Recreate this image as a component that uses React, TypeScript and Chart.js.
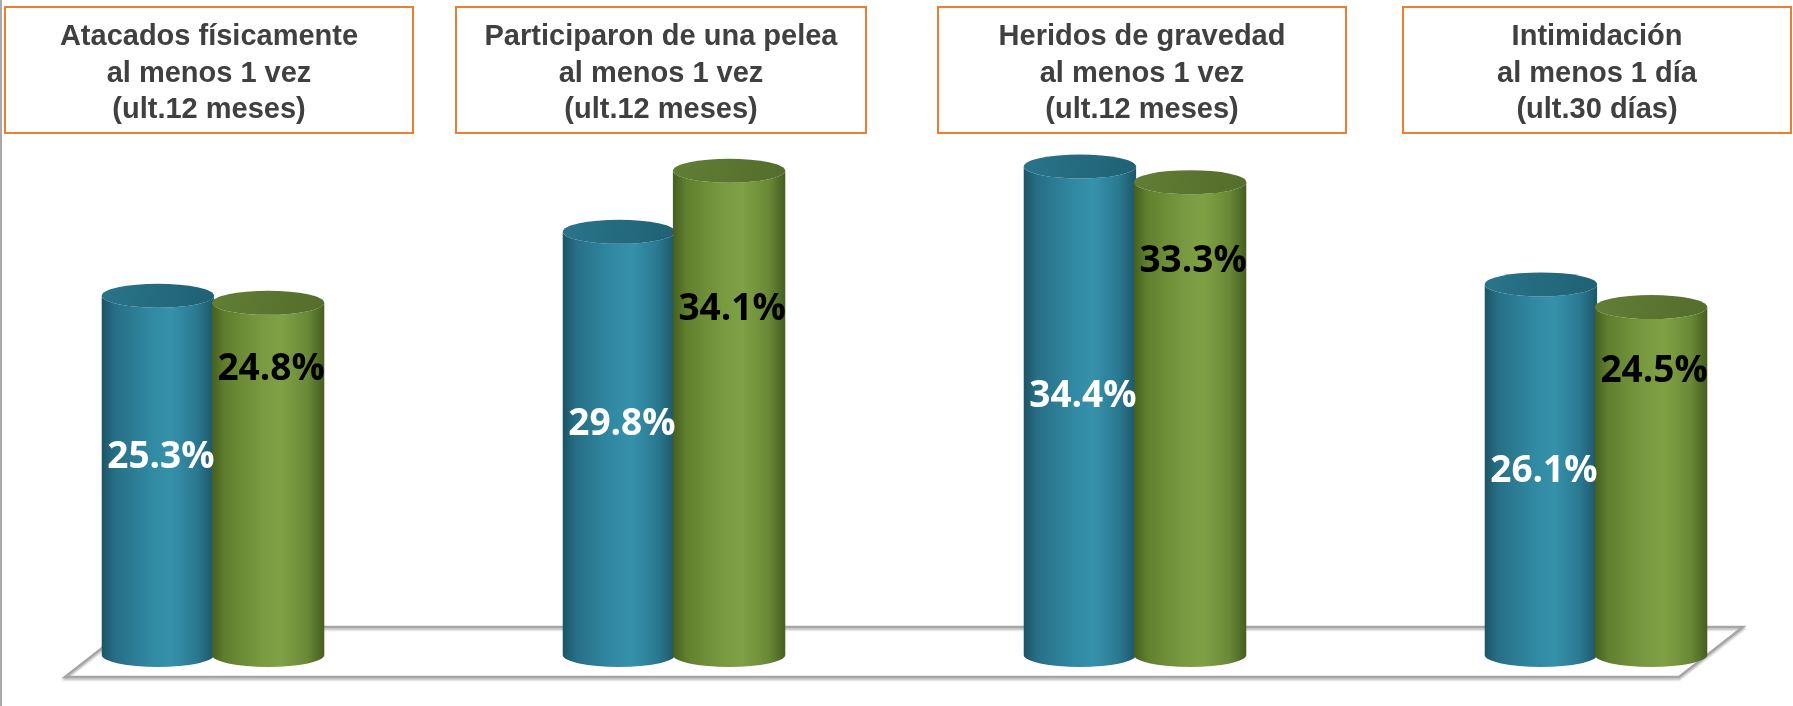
import React, { useEffect, useRef } from 'react';
import { Chart, registerables } from 'chart.js';

Chart.register(...registerables);

// ---- data ----
const categoryTitles: string[][] = [
  ['Atacados físicamente', 'al menos 1 vez', '(ult.12 meses)'],
  ['Participaron de una pelea', 'al menos 1 vez', '(ult.12 meses)'],
  ['Heridos de gravedad', 'al menos 1 vez', '(ult.12 meses)'],
  ['Intimidación', 'al menos 1 día', '(ult.30 días)'],
];
const seriesBlue: number[] = [25.3, 29.8, 34.4, 26.1];
const seriesGreen: number[] = [24.8, 34.1, 33.3, 24.5];
const seriesNames: string[] = ['Serie 1', 'Serie 2'];

// ---- styles ----
const BLUE_STOPS: [number, string][] = [
  [0, '#1c5465'],
  [0.12, '#276f86'],
  [0.45, '#318aa3'],
  [0.62, '#3691ab'],
  [0.85, '#2a7890'],
  [1, '#1d5668'],
];
const GREEN_STOPS: [number, string][] = [
  [0, '#455e1f'],
  [0.12, '#61802f'],
  [0.45, '#799a40'],
  [0.62, '#80a045'],
  [0.85, '#6a8937'],
  [1, '#455e1f'],
];
const BLUE_TOP: [string, string] = ['#2a7489', '#1f6175'];
const GREEN_TOP: [string, string] = ['#627e35', '#546d2b'];

function drawCylinder(
  ctx: CanvasRenderingContext2D,
  x: number,
  top: number,
  base: number,
  w: number,
  stops: [number, string][],
  topCols: [string, string]
) {
  const rx = w / 2;
  const ry = 12;
  const L = x - rx;
  const R = x + rx;
  const g = ctx.createLinearGradient(L, 0, R, 0);
  stops.forEach(([o, c]) => g.addColorStop(o, c));
  ctx.save();
  ctx.beginPath();
  ctx.moveTo(L, top);
  ctx.lineTo(L, base);
  ctx.ellipse(x, base, rx, ry, 0, Math.PI, 0, true);
  ctx.lineTo(R, top);
  ctx.ellipse(x, top, rx, ry, 0, 0, Math.PI, false);
  ctx.closePath();
  ctx.fillStyle = g;
  ctx.fill();
  // top cap
  const tg = ctx.createLinearGradient(L, top - ry, R, top + ry);
  tg.addColorStop(0, topCols[0]);
  tg.addColorStop(1, topCols[1]);
  ctx.beginPath();
  ctx.ellipse(x, top, rx, ry, 0, 0, Math.PI * 2);
  ctx.fillStyle = tg;
  ctx.fill();
  ctx.restore();
}

const cylinderPlugin = {
  id: 'cylinders',
  beforeDatasetsDraw(chart: any) {
    const { ctx, chartArea } = chart;
    const yScale = chart.scales.y;
    const base = yScale.getPixelForValue(0);
    // left frame line
    ctx.save();
    ctx.fillStyle = '#a9a9a9';
    ctx.fillRect(0, 0, 2, chart.height);
    // floor
    const backY = base - 28;
    const frontY = base + 22;
    ctx.beginPath();
    ctx.moveTo(chartArea.left - 84, backY);
    ctx.lineTo(chartArea.right + 147, backY);
    ctx.lineTo(chartArea.right + 83, frontY);
    ctx.lineTo(chartArea.left - 148, frontY);
    ctx.closePath();
    ctx.shadowColor = 'rgba(0,0,0,0.25)';
    ctx.shadowBlur = 2;
    ctx.shadowOffsetY = 2;
    ctx.strokeStyle = '#a6a6a6';
    ctx.lineWidth = 2.5;
    ctx.lineJoin = 'miter';
    ctx.stroke();
    ctx.restore();
  },
  afterDatasetsDraw(chart: any, _args: any, opts: any) {
    const { ctx } = chart;
    const yScale = chart.scales.y;
    const styles = [
      { stops: BLUE_STOPS, top: BLUE_TOP },
      { stops: GREEN_STOPS, top: GREEN_TOP },
    ];
    chart.data.datasets.forEach((ds: any, di: number) => {
      const meta = chart.getDatasetMeta(di);
      meta.data.forEach((el: any) => {
        drawCylinder(ctx, el.x, el.y, el.base, el.width, styles[di].stops, styles[di].top);
      });
    });
    // value labels
    ctx.save();
    ctx.font = 'bold 37px "Open Sans", "Liberation Sans", sans-serif';
    ctx.textAlign = 'center';
    ctx.textBaseline = 'middle';
    chart.data.datasets.forEach((ds: any, di: number) => {
      const meta = chart.getDatasetMeta(di);
      meta.data.forEach((el: any, i: number) => {
        const v = ds.data[i] as number;
        const level = di === 0 ? v * opts.blueLabelFraction[i] : v - opts.greenLabelDrop[i];
        const ly = yScale.getPixelForValue(level);
        ctx.fillStyle = di === 0 ? '#ffffff' : '#000000';
        ctx.fillText(v.toFixed(1) + '%', el.x + 3, ly);
      });
    });
    ctx.restore();
  },
  afterDraw(chart: any, _args: any, opts: any) {
    const { ctx } = chart;
    const xScale = chart.scales.x;
    const labels = chart.data.labels as string[][];
    ctx.save();
    labels.forEach((lines, i) => {
      const cx = xScale.getPixelForValue(i) + opts.boxShift[i];
      const half = opts.boxHalf[i];
      const left = cx - half;
      const top = 7;
      const h = 126;
      ctx.strokeStyle = '#ED7D31';
      ctx.lineWidth = 2;
      ctx.strokeRect(left, top, half * 2, h);
      ctx.fillStyle = '#404040';
      ctx.font = 'bold 29px "Liberation Sans", Arial, sans-serif';
      ctx.textAlign = 'center';
      ctx.textBaseline = 'alphabetic';
      lines.forEach((t, k) => {
        ctx.fillText(t, cx, top + 38 + k * 36.5);
      });
    });
    ctx.restore();
  },
};

export default function App() {
  const canvasRef = useRef<HTMLCanvasElement | null>(null);

  useEffect(() => {
    if (!canvasRef.current) return;
    const chart = new Chart(canvasRef.current, {
      type: 'bar',
      data: {
        labels: categoryTitles,
        datasets: [
          {
            label: seriesNames[0],
            data: seriesBlue,
            backgroundColor: 'rgba(0,0,0,0)',
            borderWidth: 0,
            categoryPercentage: 0.478,
            barPercentage: 1.02,
            clip: false,
          } as any,
          {
            label: seriesNames[1],
            data: seriesGreen,
            backgroundColor: 'rgba(0,0,0,0)',
            borderWidth: 0,
            categoryPercentage: 0.478,
            barPercentage: 1.02,
            clip: false,
          } as any,
        ],
      },
      options: {
        responsive: false,
        animation: false,
        devicePixelRatio: 1,
        layout: { padding: { left: 213, right: 197, top: 87, bottom: 51 } },
        scales: {
          x: { display: false, offset: false },
          y: { display: false, min: 0, max: 40 },
        },
        plugins: {
          legend: { display: false },
          tooltip: { enabled: false },
          cylinders: {
            blueLabelFraction: [0.55, 0.545, 0.53, 0.495],
            greenLabelDrop: [4.7, 9.8, 5.6, 4.5],
            boxShift: [-4, -13, 7, 1],
            boxHalf: [204, 205, 204, 194],
          },
        } as any,
      },
      plugins: [cylinderPlugin],
    });
    return () => chart.destroy();
  }, []);

  return (
    <div style={{ position: 'fixed', left: 0, top: 0, width: 1793, height: 706, background: '#ffffff' }}>
      <canvas ref={canvasRef} width={1793} height={706} style={{ display: 'block' }} />
    </div>
  );
}
